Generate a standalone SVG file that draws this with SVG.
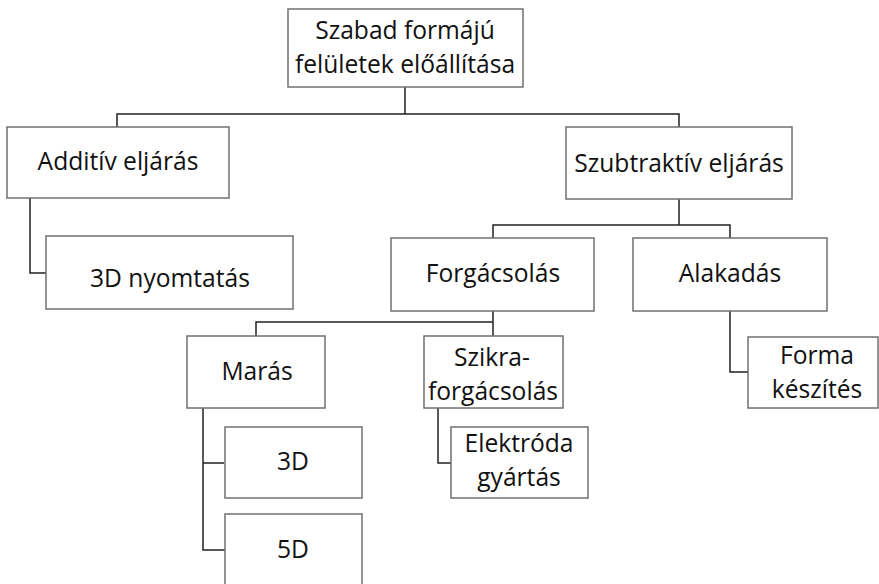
<svg xmlns="http://www.w3.org/2000/svg" width="879" height="584" viewBox="0 0 879 584">
<style>
.box{fill:#fff;stroke:#707070;stroke-width:1.5}
.lbl{font-family:"Open Sans","Liberation Sans",sans-serif;font-size:24.6px;fill:#111;text-anchor:middle}
.con{fill:none;stroke:#222;stroke-width:1.5}
</style>
<rect width="879" height="584" fill="#fff"/>
<g id="connectors">
<path class="con" d="M405 87V114M117 127V114H679V127"/>
<path class="con" d="M30 198V273H46"/>
<path class="con" d="M679 199V225M493 238V225H730V238"/>
<path class="con" d="M493 311V322M256 336V322H493V336"/>
<path class="con" d="M730 311V372H748"/>
<path class="con" d="M203 408V550H225M203 463H224"/>
<path class="con" d="M438 408V463H451"/>
</g>
<g id="root"><rect class="box" x="288" y="9" width="235" height="78"/><text class="lbl"><tspan x="405" y="39">Szabad formájú</tspan><tspan x="405" y="73">felületek előállítása</tspan></text></g>
<g id="additiv"><rect class="box" x="7" y="127" width="222" height="71"/><text class="lbl" x="118" y="170">Additív eljárás</text></g>
<g id="nyomtatas"><rect class="box" x="46" y="236" width="247" height="73"/><text class="lbl" x="170" y="287">3D nyomtatás</text></g>
<g id="szubtraktiv"><rect class="box" x="566" y="127" width="226" height="72"/><text class="lbl" x="679" y="172">Szubtraktív eljárás</text></g>
<g id="forgacsolas"><rect class="box" x="391" y="238" width="203" height="73"/><text class="lbl" x="493" y="282">Forgácsolás</text></g>
<g id="alakadas"><rect class="box" x="633" y="238" width="194" height="73"/><text class="lbl" x="730" y="282">Alakadás</text></g>
<g id="maras"><rect class="box" x="187" y="336" width="138" height="72"/><text class="lbl" x="257" y="380">Marás</text></g>
<g id="szikra"><rect class="box" x="424" y="336" width="139" height="72"/><text class="lbl" x="492" y="366">Szikra-</text><text class="lbl" x="493" y="400">forgácsolás</text></g>
<g id="forma"><rect class="box" x="748" y="337" width="130" height="71"/><text class="lbl" x="817" y="364">Forma</text><text class="lbl" x="817" y="398">készítés</text></g>
<g id="d3"><rect class="box" x="225" y="427" width="137" height="71"/><text class="lbl" x="293" y="470">3D</text></g>
<g id="d5"><rect class="box" x="225" y="514" width="137" height="80"/><text class="lbl" x="293" y="558">5D</text></g>
<g id="elektroda"><rect class="box" x="451" y="427" width="137" height="71"/><text class="lbl" x="519" y="452">Elektróda</text><text class="lbl" x="519" y="486">gyártás</text></g>
</svg>
